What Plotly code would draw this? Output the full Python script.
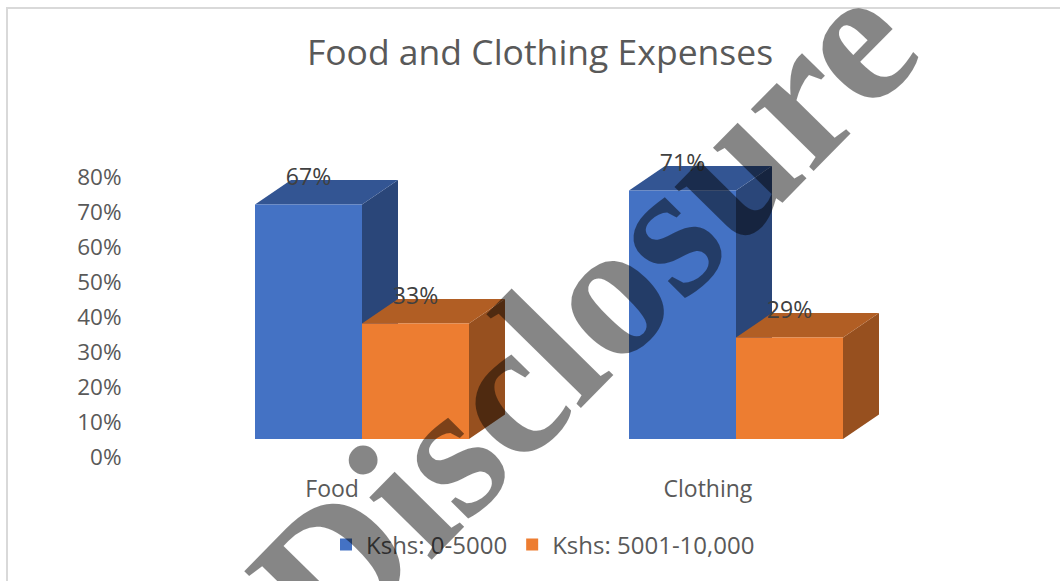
import plotly.graph_objects as go

categories = ["Food", "Clothing"]
series_names = ["Kshs: 0-5000", "Kshs: 5001-10,000"]
low_income = [67, 71]
high_income = [33, 29]
y_ticks = [0, 10, 20, 30, 40, 50, 60, 70, 80]
y_tick_labels = [f"{v}%" for v in y_ticks]
label_offsets = [-0.08, -0.075]

W, H = 1060, 581
L, R, T, B = 130, 160, 142, 124
FONT = "Open Sans"
GREY = "#595959"

px_per_y = (H - T - B) / 90
px_per_x = 374
floor = 18 / px_per_y
dx = 36 / px_per_x
dy = 24.5 / px_per_y
bar_w = 107 / px_per_x

palette = {
    series_names[0]: ("#4472C4", "#2A4679", "#335593"),
    series_names[1]: ("#ED7D31", "#97501F", "#B15E24"),
}

fig = go.Figure()
shapes = []
label_x, label_y, label_text = [], [], []
idx = list(range(len(categories)))

for s, (name, vals) in enumerate(zip(series_names, [low_income, high_income])):
    front, side, top = palette[name]
    fig.add_bar(x=idx, y=vals, base=floor, name=name, marker=dict(color=front, line_width=0), hoverinfo="skip")

for i in idx:
    for s, (name, vals) in enumerate(zip(series_names, [low_income, high_income])):
        front, side, top = palette[name]
        x0 = i + (s - 1) * bar_w
        x1 = x0 + bar_w
        y0 = floor
        y1 = floor + vals[i]
        shapes.append(dict(type="path", layer="below", xref="x", yref="y", line_width=0, fillcolor=side,
                           path=f"M{x1},{y0} L{x1+dx},{y0+dy} L{x1+dx},{y1+dy} L{x1},{y1} Z"))
        shapes.append(dict(type="path", layer="below", xref="x", yref="y", line_width=0, fillcolor=top,
                           path=f"M{x0},{y1} L{x0+dx},{y1+dy} L{x1+dx},{y1+dy} L{x1},{y1} Z"))
        label_x.append((x0 + x1) / 2)
        label_y.append(y1 + 25.5 / px_per_y)
        label_text.append(f"{vals[i]}%")

fig.add_scatter(x=label_x, y=label_y, text=label_text, mode="text", showlegend=False, hoverinfo="skip",
                textfont=dict(family=FONT, size=23, color="#404040"), textposition="middle center")

plot_w = W - L - R
shapes.append(dict(type="rect", xref="paper", yref="paper", layer="below",
                   x0=(7 - L) / plot_w, x1=(W + 20 - L) / plot_w,
                   y0=-0.5, y1=1 + (T - 8) / (H - T - B),
                   line=dict(color="#D9D9D9", width=2), fillcolor="rgba(0,0,0,0)"))

fig.update_layout(
    width=W, height=H, margin=dict(l=L, r=R, t=T, b=B),
    paper_bgcolor="white", plot_bgcolor="rgba(0,0,0,0)",
    barmode="group", bargap=1 - 2 * bar_w, bargroupgap=0,
    shapes=shapes,
    font=dict(family=FONT, color=GREY),
    title=dict(text="Food and Clothing Expenses", x=540 / W, xanchor="center", y=1 - 53 / H, yanchor="middle",
               font=dict(family=FONT, size=35.5, color=GREY)),
    xaxis=dict(range=[-(362 - L) / px_per_x, (W - R - 362) / px_per_x], showgrid=False, zeroline=False, showline=False,
               tickmode="array", tickvals=[i + o for i, o in zip(idx, label_offsets)], ticktext=categories,
               ticks="outside", ticklen=11, tickcolor="rgba(0,0,0,0)", tickfont=dict(family=FONT, size=23, color=GREY)),
    yaxis=dict(range=[0, 90], showgrid=False, zeroline=False, showline=False,
               tickmode="array", tickvals=y_ticks, ticktext=y_tick_labels,
               ticks="outside", ticklen=3, tickcolor="rgba(0,0,0,0)", tickfont=dict(family=FONT, size=22.5, color=GREY)),
    legend=dict(orientation="h", xref="container", yref="container", x=326 / W, y=1 - 545 / H,
                xanchor="left", yanchor="middle",
                font=dict(family=FONT, size=24, color=GREY), bgcolor="rgba(0,0,0,0)"),
    annotations=[dict(text="<b>Disclosure</b>", xref="paper", yref="paper",
                      x=(583 - L) / plot_w, y=(H - B - 313) / (H - T - B), xanchor="center", yanchor="middle",
                      showarrow=False, textangle=-45.5, opacity=0.47,
                      font=dict(family="Liberation Serif", size=192, color="black"))],
)

fig.write_html("out.html", post_script="document.body.style.margin='0';", config={"displayModeBar": False})
